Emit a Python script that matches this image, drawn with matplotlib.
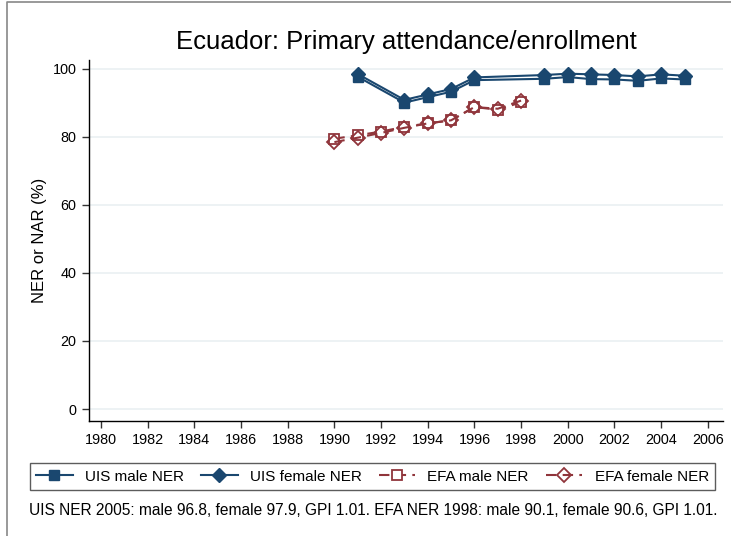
import matplotlib
matplotlib.use("Agg")
import matplotlib.pyplot as plt
from matplotlib.lines import Line2D

plt.rcParams['font.family'] = ['Liberation Sans', 'DejaVu Sans']

# UIS net enrollment
uis_years = [1991, 1993, 1994, 1995, 1996, 1999, 2000, 2001, 2002, 2003, 2004, 2005]
uis_male = [97.6, 90.0, 91.6, 93.2, 96.6, 97.0, 97.5, 96.9, 96.8, 96.4, 97.1, 96.8]
uis_female = [98.4, 90.8, 92.4, 94.0, 97.4, 98.1, 98.5, 98.3, 98.1, 97.7, 98.3, 97.9]

# EFA net attendance
efa_years = [1990, 1991, 1992, 1993, 1994, 1995, 1996, 1997, 1998]
efa_male = [79.4, 80.4, 81.5, 82.9, 83.9, 84.8, 88.7, 87.9, 90.1]
efa_female = [78.4, 79.7, 81.1, 82.6, 83.9, 84.8, 88.7, 88.2, 90.6]

x_ticks = list(range(1980, 2007, 2))
y_ticks = [0, 20, 40, 60, 80, 100]

title = "Ecuador: Primary attendance/enrollment"
note = ("UIS NER 2005: male 96.8, female 97.9, GPI 1.01. "
        "EFA NER 1998: male 90.1, female 90.6, GPI 1.01.")

navy = '#1a476f'
maroon = '#90353b'
grid_col = '#eaf0f2'

fig = plt.figure(figsize=(7.31, 5.36), dpi=100)
ax = fig.add_axes([0.1218, 0.2146, 0.867, 0.674])

ax.plot(uis_years, uis_male, color=navy, lw=1.5, marker='s', ms=6.5,
        mfc=navy, mec=navy, label='UIS male NER', zorder=3)
ax.plot(uis_years, uis_female, color=navy, lw=1.5, marker='D', ms=7.5,
        mfc=navy, mec=navy, label='UIS female NER', zorder=3)
ax.plot(efa_years, efa_male, color=maroon, lw=1.5, ls=(0, (5, 3)), marker='s',
        ms=6.5, mfc='white', mec=maroon, mew=1.3, label='EFA male NER', zorder=3)
ax.plot(efa_years, efa_female, color=maroon, lw=1.5, ls=(0, (5, 3)), marker='D',
        ms=7.5, mfc='none', mec=maroon, mew=1.3, label='EFA female NER', zorder=3)

ax.set_xlim(1979.49, 2006.64)
ax.set_ylim(-3.5, 102.6)
ax.set_xticks(x_ticks)
ax.set_yticks(y_ticks)
ax.tick_params(axis='both', labelsize=10.4, length=5, width=1, color='#333333',
               direction='out', pad=4)
ax.yaxis.grid(True, color=grid_col, lw=1.2)
ax.set_axisbelow(True)
for s in ['top', 'right']:
    ax.spines[s].set_visible(False)
for s in ['left', 'bottom']:
    ax.spines[s].set_linewidth(1.0)
ax.set_ylabel('NER or NAR (%)', fontsize=12, labelpad=4)
ax.set_title(title, fontsize=18.5, pad=8)

leg = fig.legend(loc='center', bbox_to_anchor=(0.041, 0.0802, 0.937, 0.0616),
                 mode='expand', ncol=4, fontsize=11, frameon=True,
                 fancybox=False, edgecolor='#333333', handlelength=2.4,
                 handletextpad=0.8, borderaxespad=0)
leg.get_frame().set_linewidth(1.0)

fig.text(0.04, 0.048, note, fontsize=11.2, va='center', ha='left')

# outer frame (top and left edges visible)
fig.add_artist(Line2D([0.009, 0.009, 1.0], [0.0, 0.997, 0.997],
                      transform=fig.transFigure, color='#888888', lw=1.2))

fig.savefig('out.png', dpi=100)
